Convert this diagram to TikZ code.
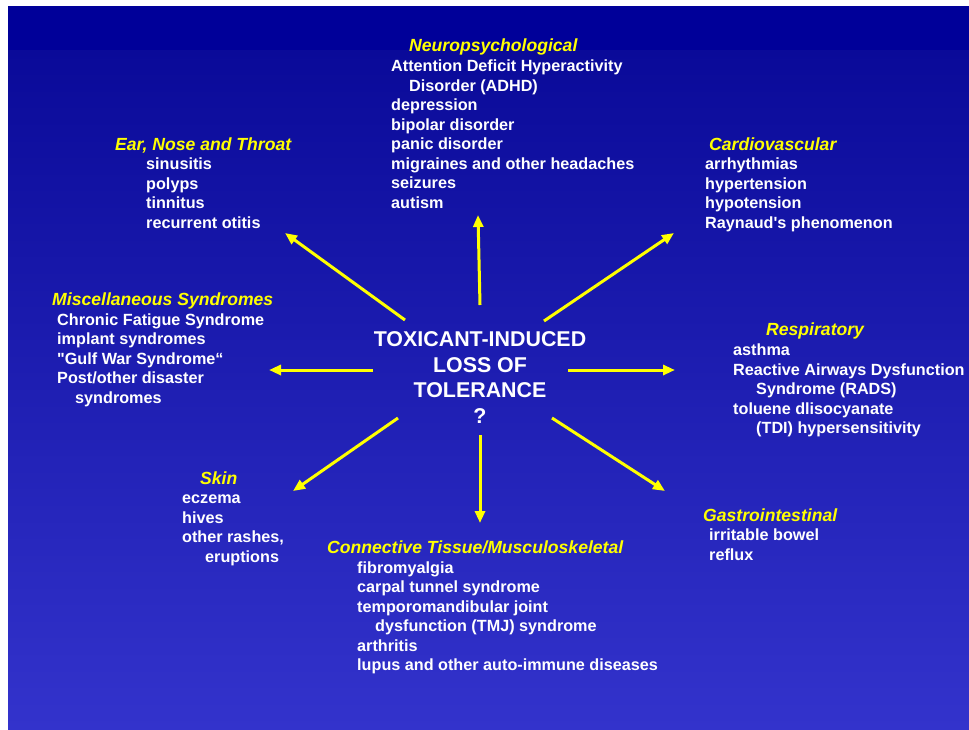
\documentclass[tikz,border=0pt]{standalone}
\usepackage{fontspec}
\setmainfont{Liberation Sans}
\usepackage{xcolor}
\usepackage{tikz}
\usetikzlibrary{arrows.meta}

\definecolor{slidetop}{HTML}{000099}
\definecolor{slideband}{HTML}{0A0A99}
\definecolor{slidebot}{HTML}{3333CC}
\definecolor{headyellow}{HTML}{FFFF00}

\newcommand{\itemfont}{\fontsize{16.2}{19.5}\selectfont\bfseries}
\newcommand{\headfont}{\fontsize{17.6}{21}\selectfont\bfseries\itshape}
\newcommand{\tiltfont}{\fontsize{21.4}{25.7}\selectfont\bfseries}
\newcommand{\ind}{\hspace*{18pt}}
\newcommand{\straightquote}{{\addfontfeatures{Ligatures=TeXOff}"}}

\begin{document}
\begin{tikzpicture}[x=1pt,y=-1pt,
    head/.style={anchor=base west,inner sep=0pt,text=headyellow,font=\headfont},
    items/.style={anchor=base west,inner sep=0pt,text=white,font=\itemfont},
    spoke/.style={line width=3pt,headyellow,-{Triangle[length=12pt,width=10pt]}}]
        \useasboundingbox (0,0) rectangle (969,729);
        \fill[white] (0,0) rectangle (969,729);
        \fill[slidetop] (8,6) rectangle (969,50);
        \shade[top color=slideband,bottom color=slidebot] (8,50) rectangle (969,729);

        % centre
        \node[anchor=base,inner sep=0pt,text=white,font=\tiltfont] (tilt) at (480,346.5)
            {\begin{tabular}[t]{@{}c@{}}TOXICANT-INDUCED\\LOSS OF\\TOLERANCE\\?\end{tabular}};

        % categories
        \node[head] (neurohead) at (409,51.5) {Neuropsychological};
        \node[items] (neurolist) at (391,71.5) {\begin{tabular}[t]{@{}l@{}}Attention Deficit Hyperactivity\\
            \ind Disorder (ADHD)\\depression\\bipolar disorder\\panic disorder\\
            migraines and other headaches\\seizures\\autism\end{tabular}};

        \node[head] (enthead) at (115,150) {Ear, Nose and Throat};
        \node[items] (entlist) at (146,169.5) {\begin{tabular}[t]{@{}l@{}}sinusitis\\polyps\\tinnitus\\recurrent otitis\end{tabular}};

        \node[head] (cardhead) at (709,150) {Cardiovascular};
        \node[items] (cardlist) at (705,169.5) {\begin{tabular}[t]{@{}l@{}}arrhythmias\\hypertension\\hypotension\\Raynaud\textquotesingle s phenomenon\end{tabular}};

        \node[head] (mischead) at (52,305.5) {Miscellaneous Syndromes};
        \node[items] (misclist) at (57,325) {\begin{tabular}[t]{@{}l@{}}Chronic Fatigue Syndrome\\implant syndromes\\
            \straightquote Gulf War Syndrome``\\Post/other disaster\\\ind syndromes\end{tabular}};

        \node[head] (resphead) at (766,335.5) {Respiratory};
        \node[items] (resplist) at (733,355.5) {\begin{tabular}[t]{@{}l@{}}asthma\\Reactive Airways Dysfunction\\
            \hspace*{23pt}Syndrome (RADS)\\toluene dlisocyanate\\\hspace*{23pt}(TDI) hypersensitivity\end{tabular}};

        \node[head] (skinhead) at (200,484) {Skin};
        \node[items] (skinlist) at (182,503.5) {\begin{tabular}[t]{@{}l@{}}eczema\\hives\\other rashes,\\\hspace*{23pt}eruptions\end{tabular}};

        \node[head] (gihead) at (703,521) {Gastrointestinal};
        \node[items] (gilist) at (709,540.5) {\begin{tabular}[t]{@{}l@{}}irritable bowel\\reflux\end{tabular}};

        \node[head] (ctmhead) at (327,553) {Connective Tissue/Musculoskeletal};
        \node[items] (ctmlist) at (357,573) {\begin{tabular}[t]{@{}l@{}}fibromyalgia\\carpal tunnel syndrome\\temporomandibular joint\\
            \ind dysfunction (TMJ) syndrome\\arthritis\\lupus and other auto-immune diseases\end{tabular}};

        % spokes
        \coordinate (n0) at (480,305);   \coordinate (n1) at (478,215);
        \coordinate (nw0) at (405,320);  \coordinate (nw1) at (285,233);
        \coordinate (ne0) at (544,321);  \coordinate (ne1) at (674,233);
        \coordinate (w0) at (373,370);   \coordinate (w1) at (269,370);
        \coordinate (e0) at (568,370);   \coordinate (e1) at (675,370);
        \coordinate (sw0) at (398,418);  \coordinate (sw1) at (293,491);
        \coordinate (s0) at (480,435);   \coordinate (s1) at (480,523);
        \coordinate (se0) at (552,418);  \coordinate (se1) at (665,491);
        \foreach \a in {n,nw,ne,w,e,sw,s,se}
            \draw[spoke] (\a0) -- (\a1);
      \end{tikzpicture}
\end{document}
